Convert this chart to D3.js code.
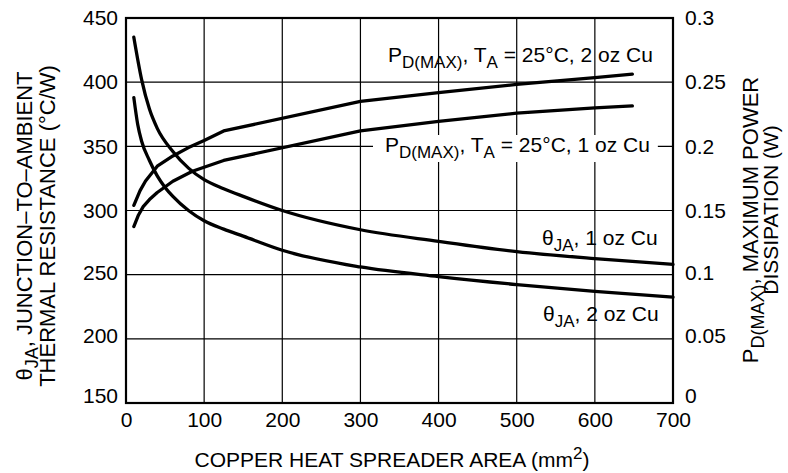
<!DOCTYPE html>
<html>
<head>
<meta charset="utf-8">
<script src="https://cdn.jsdelivr.net/npm/d3@7"></script>
<style>
  body { margin: 0; background: #fff; }
  svg { display: block; font-family: "Liberation Sans", Arial, sans-serif; }
</style>
</head>
<body>
<svg id="chart" width="788" height="473"></svg>
<script>
// ---- data ----
const xTicks = [0, 100, 200, 300, 400, 500, 600, 700];
const leftTicks = [150, 200, 250, 300, 350, 400, 450];
const rightTicks = [0, 0.05, 0.1, 0.15, 0.2, 0.25, 0.3];
const rightTickLabels = ["0", "0.05", "0.1", "0.15", "0.2", "0.25", "0.3"];

// theta JA (degC/W), left axis
const theta1Area = [10, 20, 30, 40, 60, 80, 100, 125, 150, 200, 300, 400, 500, 600, 700];
const theta1Vals = [435, 402, 379, 364, 346, 333, 324, 317, 311, 300, 285, 276, 268, 262.5, 258];
const theta2Area = [10, 15, 20, 30, 40, 50, 60, 80, 100, 125, 150, 200, 300, 400, 500, 600, 700];
const theta2Vals = [388, 367, 354, 339, 327, 318, 311, 300, 292, 285.5, 280, 269, 256, 248.5, 242.3, 237, 232.5];

// PD(MAX) (W), right axis
const pd2Area = [10, 18, 25, 40, 60, 80, 100, 125, 300, 400, 500, 600, 648];
const pd2Vals = [0.154, 0.1655, 0.173, 0.1845, 0.1925, 0.199, 0.2045, 0.212, 0.235, 0.2418, 0.2482, 0.2535, 0.2563];
const pd1Area = [10, 16, 22, 30, 40, 60, 85, 125, 300, 400, 500, 600, 648];
const pd1Vals = [0.1375, 0.1465, 0.153, 0.1585, 0.164, 0.1728, 0.1806, 0.189, 0.212, 0.2195, 0.2258, 0.2300, 0.2315];

// ---- layout ----
const M = { left: 126, right: 673, top: 18, bottom: 403 };
const FS = 21, TFS = 22;

const svg = d3.select("#chart");
const x = d3.scaleLinear().domain([0, 700]).range([M.left, M.right]);
const yL = d3.scaleLinear().domain([150, 450]).range([M.bottom, M.top]);
const yR = d3.scaleLinear().domain([0, 0.3]).range([M.bottom, M.top]);

// grid
const grid = svg.append("g").attr("stroke", "#000").attr("stroke-width", 1.2);
grid.selectAll("line.v").data(xTicks.slice(1, -1)).join("line")
  .attr("x1", d => x(d)).attr("x2", d => x(d))
  .attr("y1", M.top).attr("y2", M.bottom);
grid.selectAll("line.h").data(leftTicks.slice(1, -1)).join("line")
  .attr("x1", M.left).attr("x2", M.right)
  .attr("y1", d => yL(d)).attr("y2", d => yL(d));

// frame
svg.append("rect").attr("x", M.left).attr("y", M.top)
  .attr("width", M.right - M.left).attr("height", M.bottom - M.top)
  .attr("fill", "none").attr("stroke", "#000").attr("stroke-width", 2.2);

// axes (labels only, via d3 axes)
const axL = svg.append("g").attr("transform", `translate(${M.left},0)`)
  .call(d3.axisLeft(yL).tickValues(leftTicks).tickSize(0).tickPadding(8));
const axR = svg.append("g").attr("transform", `translate(${M.right},0)`)
  .call(d3.axisRight(yR).tickValues(rightTicks).tickSize(0).tickPadding(12)
    .tickFormat((d, i) => rightTickLabels[i]));
const axB = svg.append("g").attr("transform", `translate(0,${M.bottom})`)
  .call(d3.axisBottom(x).tickValues(xTicks).tickSize(0).tickPadding(9));
[axL, axR, axB].forEach(a => {
  a.select(".domain").remove();
  a.selectAll("text").attr("font-size", FS).attr("fill", "#000")
    .attr("font-family", "Liberation Sans, Arial, sans-serif");
});
// lower vertical labels sit slightly above their lines in the reference
const nudge = [-7, -3, -2, 0, 0, 0, 0];
axL.selectAll(".tick text").attr("transform", (d, i) => `translate(0,${nudge[i]})`);
axR.selectAll(".tick text").attr("transform", (d, i) => `translate(0,${nudge[i]})`);

// curves
function drawCurve(area, vals, yScale, curve) {
  const pts = area.map((a, i) => [x(a), yScale(vals[i])]);
  svg.append("path").attr("d", d3.line().curve(curve)(pts))
    .attr("fill", "none").attr("stroke", "#000").attr("stroke-width", 3.3)
    .attr("stroke-linecap", "round").attr("stroke-linejoin", "round");
}
drawCurve(theta1Area, theta1Vals, yL, d3.curveMonotoneX);
drawCurve(theta2Area, theta2Vals, yL, d3.curveMonotoneX);
drawCurve(pd2Area, pd2Vals, yR, d3.curveLinear);
drawCurve(pd1Area, pd1Vals, yR, d3.curveLinear);

// rich text helper: parts = [[text, "n"|"sub"|"sup"]]
function rich(g, parts, fs) {
  let prev = 0;
  parts.forEach(([t, kind]) => {
    const off = kind === "sub" ? 6 : kind === "sup" ? -8 : 0;
    g.append("tspan").text(t).attr("dy", off - prev)
      .attr("font-size", kind === "n" ? fs : Math.round(fs * 0.81));
    prev = off;
  });
}
function label(xp, yp, parts, opts = {}) {
  const fs = opts.fs || FS;
  const t = svg.append("text").attr("x", xp).attr("y", yp)
    .attr("font-size", fs).attr("fill", "#000");
  if (opts.anchor) t.attr("text-anchor", opts.anchor);
  if (opts.transform) t.attr("transform", opts.transform).attr("x", 0).attr("y", 0);
  rich(t, parts, fs);
  return t;
}

// curve labels
label(388, 62, [["P", "n"], ["D(MAX)", "sub"], [", T", "n"], ["A", "sub"], [" = 25°C, 2 oz Cu", "n"]]);
const l1 = label(385, 152, [["P", "n"], ["D(MAX)", "sub"], [", T", "n"], ["A", "sub"], [" = 25°C, 1 oz Cu", "n"]]);
const bb = l1.node().getBBox();
svg.insert("rect", () => l1.node())
  .attr("x", bb.x - 12).attr("y", bb.y + 2)
  .attr("width", bb.width + 20).attr("height", bb.height - 2)
  .attr("fill", "#fff");
label(542, 245, [["θ", "n"], ["JA", "sub"], [", 1 oz Cu", "n"]]);
label(543, 321, [["θ", "n"], ["JA", "sub"], [", 2 oz Cu", "n"]]);

// axis titles
label(0, 0, [["COPPER HEAT SPREADER AREA (mm", "n"], ["2", "sup"], [")", "n"]],
  { anchor: "middle", transform: "translate(392,467)" });
label(0, 0, [["θ", "n"], ["JA", "sub"], [", JUNCTION–TO–AMBIENT", "n"]],
  { anchor: "middle", transform: "translate(32,226) rotate(-90)", fs: TFS });
label(0, 0, [["THERMAL RESISTANCE (°C/W)", "n"]],
  { anchor: "middle", transform: "translate(55,226) rotate(-90)", fs: TFS });
label(0, 0, [["P", "n"], ["D(MAX)", "sub"], [", MAXIMUM POWER", "n"]],
  { anchor: "middle", transform: "translate(758,220) rotate(-90)", fs: TFS });
label(0, 0, [["DISSIPATION (W)", "n"]],
  { anchor: "middle", transform: "translate(778,210) rotate(-90)" });
</script>
</body>
</html>
